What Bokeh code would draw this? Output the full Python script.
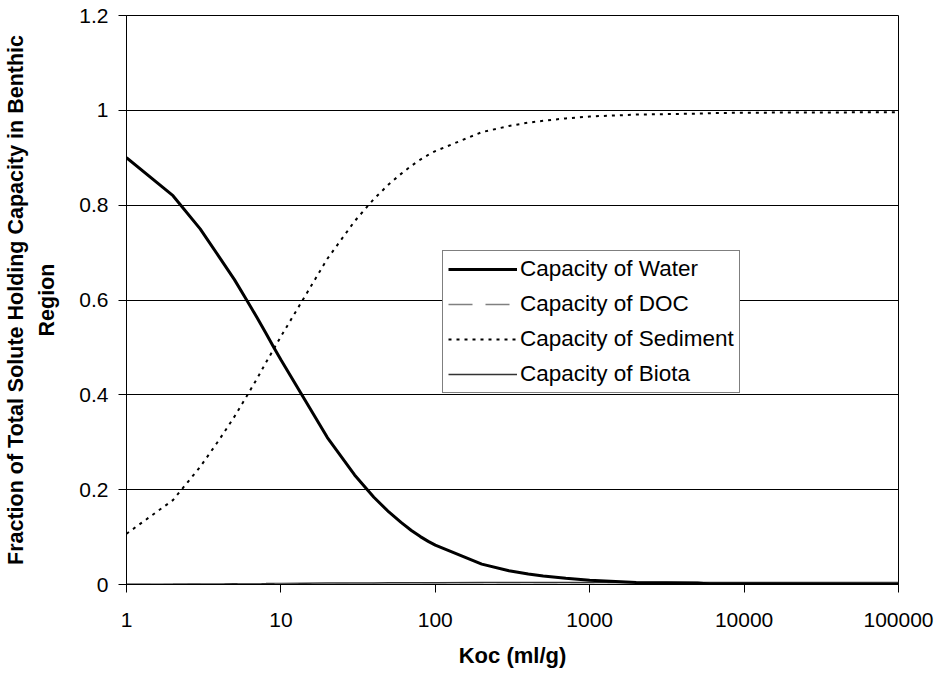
from bokeh.plotting import figure
from bokeh.models import (FixedTicker, CustomJSTickFormatter, Legend, LegendItem, Range1d)
from bokeh.embed import file_html
from bokeh.resources import INLINE

# ---- data ----
koc = [1, 2, 3, 4, 5, 6, 7, 8, 9, 10,
       20, 30, 40, 50, 60, 70, 80, 90, 100,
       200, 300, 400, 500, 700, 1000, 2000, 5000, 6000, 10000, 100000]
water = [0.900, 0.820, 0.750, 0.690, 0.643, 0.600, 0.563, 0.530, 0.500, 0.474,
         0.310, 0.231, 0.184, 0.153, 0.131, 0.114, 0.101, 0.091, 0.083,
         0.043, 0.029, 0.022, 0.018, 0.013, 0.009, 0.004, 0.003, 0.001, 0.001, 0.000]
doc = [0.0003, 0.0003, 0.0003, 0.0003, 0.0003, 0.0003, 0.0003, 0.0003, 0.0003, 0.0003,
       0.0002, 0.0002, 0.0002, 0.0002, 0.0002, 0.0002, 0.0002, 0.0002, 0.0002,
       0.0001, 0.0001, 0.0001, 0.0001, 0.0001, 0.0001, 0.0001, 0.0001, 0.0001, 0.0001, 0.0001]
sediment = [0.107, 0.178, 0.248, 0.306, 0.354, 0.397, 0.434, 0.468, 0.497, 0.523,
            0.687, 0.766, 0.813, 0.844, 0.866, 0.883, 0.896, 0.906, 0.914,
            0.954, 0.967, 0.974, 0.978, 0.983, 0.987, 0.991, 0.993, 0.994, 0.995, 0.996]
biota = [0.0005, 0.0008, 0.0010, 0.0012, 0.0014, 0.0016, 0.0018, 0.0019, 0.0021, 0.0022,
         0.0029, 0.0032, 0.0034, 0.0035, 0.0036, 0.0037, 0.0037, 0.0038, 0.0038,
         0.0040, 0.0040, 0.0040, 0.0041, 0.0041, 0.0041, 0.0041, 0.0041, 0.0041, 0.0041, 0.0041]

x_ticks = [1, 10, 100, 1000, 10000, 100000]
y_ticks = [0, 0.2, 0.4, 0.6, 0.8, 1.0, 1.2]
series_names = ["Capacity of Water", "Capacity of DOC", "Capacity of Sediment", "Capacity of Biota"]
x_title = "Koc (ml/g)"
y_title = "Fraction of Total Solute Holding Capacity in Benthic\nRegion"

FONT = "Liberation Sans"

p = figure(width=939, height=675, x_axis_type="log",
           x_range=Range1d(1, 100000), y_range=Range1d(0, 1.2),
           output_backend="svg", toolbar_location=None,
           min_border_left=126, min_border_right=41,
           min_border_top=15, min_border_bottom=91)
p.background_fill_color = "white"
p.border_fill_color = "white"
p.outline_line_color = "black"
p.outline_line_width = 1

for ax in (p.xaxis[0], p.yaxis[0]):
    ax.axis_line_color = "black"
    ax.axis_line_width = 1
    ax.major_tick_line_color = "black"
    ax.major_tick_out = 8
    ax.major_tick_in = 0
    ax.minor_tick_out = 0
    ax.minor_tick_in = 0
    ax.minor_tick_line_color = None
    ax.major_label_text_font = FONT
    ax.major_label_text_font_size = "21px"
    ax.major_label_text_color = "black"
    ax.axis_label_text_font = FONT
    ax.axis_label_text_font_style = "bold"
    ax.axis_label_text_color = "black"

p.xaxis.ticker = FixedTicker(ticks=x_ticks, minor_ticks=[])
p.xaxis.formatter = CustomJSTickFormatter(code="return String(Math.round(tick));")
p.xaxis.major_label_standoff = 20
p.xaxis.axis_label = x_title
p.xaxis.axis_label_text_font_size = "22px"
p.xaxis.axis_label_standoff = 13

p.yaxis.ticker = FixedTicker(ticks=y_ticks, minor_ticks=[])
p.yaxis.formatter = CustomJSTickFormatter(code="return String(Math.round(tick*10)/10);")
p.yaxis.major_label_standoff = 10
p.yaxis.axis_label = y_title
p.yaxis.axis_label_text_font_size = "21.5px"
p.yaxis.axis_label_text_line_height = 1.3
p.yaxis.axis_label_standoff = 17

p.xgrid.visible = False
p.ygrid.ticker = FixedTicker(ticks=y_ticks)
p.ygrid.grid_line_color = "black"
p.ygrid.grid_line_width = 1

r_biota = p.line(koc, biota, line_color="#333333", line_width=1.5)
r_doc = p.line(koc, doc, line_color="#808080", line_width=1.5, line_dash="24 13")
r_sed = p.line(koc, sediment, line_color="black", line_width=2, line_dash="3 5")
r_water = p.line(koc, water, line_color="black", line_width=3)

legend = Legend(items=[LegendItem(label=series_names[0], renderers=[r_water]),
                       LegendItem(label=series_names[1], renderers=[r_doc]),
                       LegendItem(label=series_names[2], renderers=[r_sed]),
                       LegendItem(label=series_names[3], renderers=[r_biota])],
                location=(316, 191))
legend.border_line_color = "black"
legend.border_line_width = 1
legend.background_fill_color = "white"
legend.background_fill_alpha = 1
legend.label_text_font = FONT
legend.label_text_font_size = "22.5px"
legend.label_text_color = "black"
legend.glyph_width = 69
legend.glyph_height = 26
legend.label_height = 26
legend.label_standoff = 3
legend.spacing = 9
legend.padding = 5
legend.margin = 0
p.add_layout(legend)

open("out.html", "w").write(file_html(p, INLINE))
